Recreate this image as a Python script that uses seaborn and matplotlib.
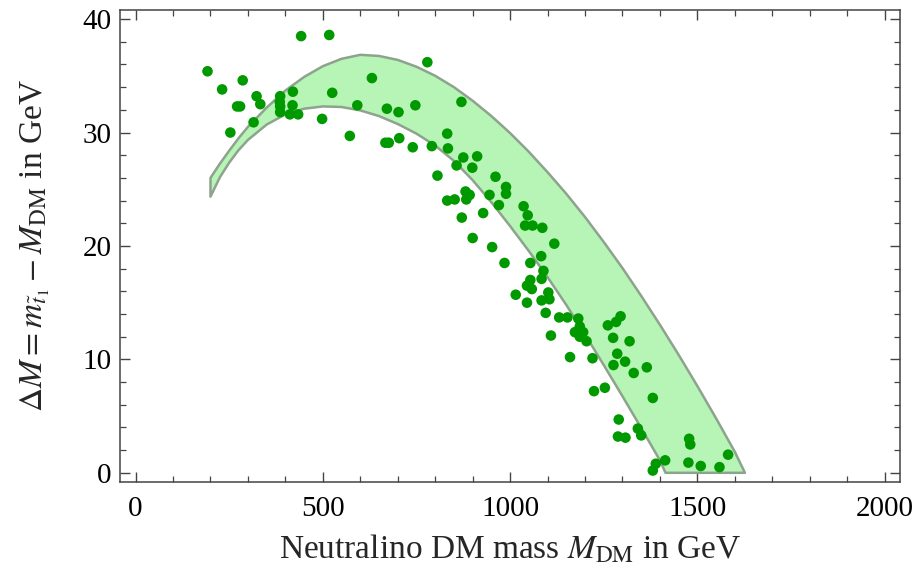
import numpy as np
import pandas as pd
import matplotlib
matplotlib.use("Agg")
import matplotlib.pyplot as plt
from matplotlib.ticker import MultipleLocator
import seaborn as sns

# ---- data ----
dm_mass = [192, 231, 286, 253, 271, 279, 315, 323, 333,
           386, 385, 386, 386, 420, 419, 412, 434,
           442, 517, 525, 498, 572, 592, 631, 671, 702, 667, 676, 704,
           779, 870, 747, 740, 791, 832, 834, 875, 912, 857, 899, 806, 961, 989, 989, 945,
           881, 892, 883, 832, 852, 970, 1036, 1047, 928, 871,
           1040, 1060, 1086, 1118, 900, 952, 985, 1054, 1083, 1089, 1084, 1054, 1045, 1058,
           1015, 1102, 1084, 1105, 1045, 1095, 1131, 1153, 1182, 1109,
           1186, 1173, 1186, 1204, 1195,
           1261, 1283, 1295, 1275, 1319,
           1286, 1307, 1276, 1330, 1365, 1160, 1220, 1224, 1253, 1381, 1290, 1288, 1308,
           1341, 1350, 1478, 1481, 1414, 1389, 1381, 1476, 1509, 1559, 1582]
delta_m = [35.4, 33.8, 34.6, 30.0, 32.3, 32.3, 30.9, 33.2, 32.5,
           33.2, 32.7, 32.3, 31.8, 33.6, 32.4, 31.6, 31.6,
           38.5, 38.6, 33.5, 31.2, 29.7, 32.4, 34.8, 32.1, 31.8, 29.1, 29.1, 29.5,
           36.2, 32.7, 32.4, 28.7, 28.8, 29.9, 28.6, 27.8, 27.9, 27.1, 26.9, 26.2, 26.1, 25.2, 24.6, 24.5,
           24.8, 24.5, 24.1, 24.0, 24.1, 23.6, 23.5, 22.7, 22.9, 22.5,
           21.8, 21.8, 21.6, 20.2, 20.7, 19.9, 18.5, 18.5, 19.1, 17.8, 17.1, 17.0, 16.5, 16.2,
           15.7, 15.9, 15.2, 15.3, 15.0, 14.1, 13.7, 13.7, 13.6, 12.1,
           12.9, 12.4, 12.0, 11.6, 12.4,
           13.0, 13.3, 13.8, 11.9, 11.6,
           10.5, 9.8, 9.5, 8.8, 9.3, 10.2, 10.1, 7.2, 7.5, 6.6, 4.7, 3.2, 3.1,
           3.9, 3.3, 3.0, 2.5, 1.1, 0.8, 0.2, 0.9, 0.6, 0.5, 1.6]

band_upper_x = [200, 225, 250, 275, 300, 350, 400, 450, 500, 550, 600, 650, 700, 750, 800, 850, 900,
                950, 1000, 1050, 1100, 1150, 1200, 1250, 1300, 1350, 1400, 1450, 1500, 1550, 1600, 1627]
band_upper_y = [26.0, 27.25, 28.4, 29.5, 30.5, 32.2, 33.7, 34.9, 35.85, 36.5, 36.85, 36.75, 36.4, 35.8, 35.0,
                34.0, 32.8, 31.45, 29.95, 28.3, 26.5, 24.6, 22.55, 20.35, 18.05, 15.6, 13.05, 10.4, 7.65,
                4.8, 1.85, 0.0]
band_lower_x = [200, 225, 250, 275, 300, 350, 400, 450, 500, 550, 600, 650, 700, 750, 800, 850, 900,
                950, 1000, 1050, 1100, 1150, 1200, 1250, 1300, 1350, 1400, 1415]
band_lower_y = [24.35, 26.05, 27.35, 28.45, 29.35, 30.7, 31.6, 32.1, 32.3, 32.25, 31.95, 31.45, 30.75,
                29.9, 28.85, 27.5, 25.8, 23.85, 21.75, 19.55, 17.25, 14.8, 12.2, 9.5, 6.75, 3.95, 1.1, 0.0]

x_ticks = [0, 500, 1000, 1500, 2000]
x_tick_labels = ["0", "500", "1000", "1500", "2000"]
y_ticks = [0, 10, 20, 30, 40]
y_tick_labels = ["0", "10", "20", "30", "40"]

# ---- style ----
sns.set_theme(style="white")
plt.rcParams["font.family"] = ["Liberation Serif", "DejaVu Serif"]
plt.rcParams["mathtext.fontset"] = "stix"

fig = plt.figure(figsize=(9.15, 5.76), dpi=100)
ax = fig.add_axes([0.131, 0.163, 0.853, 0.820])

# band polygon: upper edge left->right, then lower edge right->left
poly_x = band_upper_x + band_lower_x[::-1]
poly_y = band_upper_y + band_lower_y[::-1]
ax.fill(poly_x, poly_y, facecolor="#b6f5b6", edgecolor="#8da38d", linewidth=1.8,
        joinstyle="round", zorder=1)

df = pd.DataFrame({"mass": dm_mass, "dM": delta_m})
sns.scatterplot(data=df, x="mass", y="dM", color="#009a00", s=58, edgecolor="none",
                linewidth=0, ax=ax, zorder=3)

ax.set_xlim(-42, 2042)
ax.set_ylim(-0.82, 40.82)
ax.set_xticks(x_ticks)
ax.set_xticklabels(x_tick_labels)
ax.set_yticks(y_ticks)
ax.set_yticklabels(y_tick_labels)
ax.xaxis.set_minor_locator(MultipleLocator(100))
ax.yaxis.set_minor_locator(MultipleLocator(2))
ax.tick_params(which="both", direction="in", top=True, right=True, bottom=True, left=True,
               color="#444444", labelcolor="black", labelsize=21)
ax.tick_params(which="major", length=7, width=1)
ax.tick_params(which="minor", length=4, width=0.9)
ax.tick_params(axis="x", which="major", pad=10)
ax.tick_params(axis="y", which="major", pad=6)
for sp in ax.spines.values():
    sp.set_color("#444444")
    sp.set_linewidth(1.1)

ax.set_xlabel(r"Neutralino DM mass $M_{\rm DM}$ in GeV", fontsize=24, labelpad=8)
ax.set_ylabel(r"$\Delta M = m_{\tilde{t}_1} - M_{\rm DM}$ in GeV", fontsize=24, labelpad=22)

fig.savefig("out.png", dpi=100)
